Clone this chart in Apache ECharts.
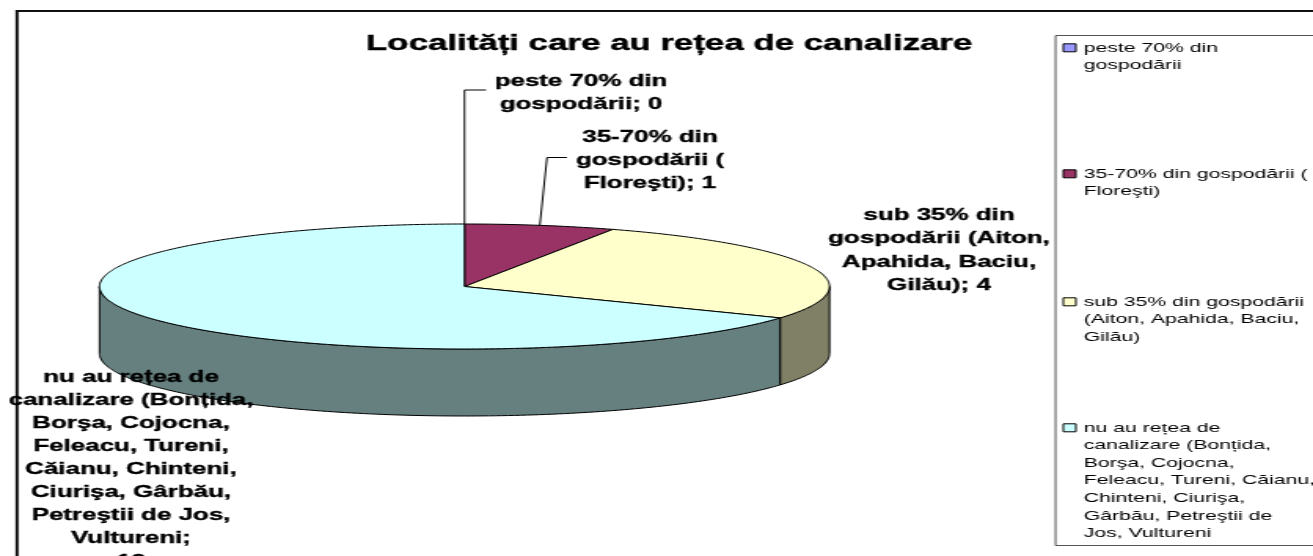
<!DOCTYPE html>
<html>
<head>
<meta charset="utf-8">
<style>
html,body{margin:0;padding:0;background:#fff;overflow:hidden}
#w{width:1313px;height:556px;overflow:hidden}
#c{width:836px;height:556px;transform:scale(1.5706,1);transform-origin:0 0}
</style>
<script src="https://cdn.jsdelivr.net/npm/echarts@6/dist/echarts.min.js"></script>
</head>
<body>
<div id="w"><div id="c"></div></div>
<script>
const titleText = 'Localități care au rețea de canalizare';
const categories = [
  'peste 70% din\ngospodării',
  '35-70% din gospodării (\nFloreşti)',
  'sub 35% din gospodării\n(Aiton, Apahida, Baciu,\nGilău)',
  'nu au rețea de\ncanalizare (Bonțida,\nBorşa, Cojocna,\nFeleacu, Tureni, Căianu,\nChinteni, Ciurişa,\nGârbău, Petreştii de\nJos, Vultureni'
];
const labelTexts = [
  'peste 70% din\ngospodării; ',
  '35-70% din\ngospodării (\nFloreşti); ',
  'sub 35% din\ngospodării (Aiton,\nApahida, Baciu,\nGilău); ',
  'nu au rețea de\ncanalizare (Bonțida,\nBorşa, Cojocna,\nFeleacu, Tureni,\nCăianu, Chinteni,\nCiurişa, Gârbău,\nPetreştii de Jos,\nVultureni;\n'
];
const values = [0, 1, 4, 12];
const topColors = ['#9999FF', '#993366', '#FFFFCC', '#CCFFFF'];
const sideColors = ['#4D4D80', '#4D1A33', '#808066', '#668080'];

// The whole picture is drawn narrow and stretched sideways; SX converts screen x to drawing x.
const SX = 1313 / 836;
const sx = x => x / SX;

// layout of the tilted pie
const CX = sx(464.5), CY = 286.5, RX = sx(365), RY = 62.5, DEPTH = 67;
const total = values.reduce((a, b) => a + b, 0);
const rad = Math.PI / 180;
// the tilted view stretches the front-right part of the disc
function viewAngle(deg) {
  const a = deg * rad;
  return a + (6.26 * (1 - Math.cos(a)) + 6.57 * Math.sin(a)) * rad;
}
function rim(a, drop) {
  return [CX + RX * Math.sin(a), CY - RY * Math.cos(a) + (drop || 0)];
}
function arc(a0, a1, drop) {
  const pts = [], n = Math.max(2, Math.ceil(Math.abs(a1 - a0) / (1 * rad)));
  for (let i = 0; i <= n; i++) pts.push(rim(a0 + (a1 - a0) * i / n, drop));
  return pts;
}
const labelPlace = [
  { x: sx(581), y: 69.5, h: 23.4, leader: [[sx(464.5), 90], [sx(486), 90]] },
  { x: sx(650), y: 126, h: 23, leader: [[sx(547), 157.5], [sx(567), 157.5]] },
  { x: sx(939), y: 204, h: 23.2 },
  { x: sx(131), y: 366, h: 23 }
];

function renderSlice(params, api) {
  const idx = params.seriesIndex;
  const v = api.value(0);
  const before = values.slice(0, idx).reduce((a, b) => a + b, 0);
  const a0 = viewAngle(before / total * 360);
  const a1 = viewAngle((before + v) / total * 360);
  const children = [];
  if (v > 0) {
    const s0 = Math.max(a0, Math.PI / 2), s1 = Math.min(a1, Math.PI * 1.5);
    if (s1 > s0) {
      children.push({
        type: 'polygon', z2: 1,
        shape: { points: arc(s0, s1, 0).concat(arc(s1, s0, DEPTH)) },
        style: { fill: sideColors[idx], stroke: '#000', lineWidth: 1 }
      });
    }
    children.push({
      type: 'polygon', z2: 2,
      shape: { points: [[CX, CY]].concat(arc(a0, a1, 0)) },
      style: { fill: topColors[idx], stroke: '#000', lineWidth: 1 }
    });
  }
  const place = labelPlace[idx];
  if (place.leader) {
    const start = rim(viewAngle((before + v / 2) / total * 360), 0);
    children.push({
      type: 'polyline', z2: 3,
      shape: { points: [start].concat(place.leader) },
      style: { fill: null, stroke: '#000', lineWidth: 1 }
    });
  }
  children.push({
    type: 'text', z2: 4,
    style: {
      x: place.x, y: place.y,
      text: labelTexts[idx] + v,
      align: 'center', verticalAlign: 'top',
      font: 'bold 16.5px "Liberation Sans"',
      lineHeight: place.h, fill: '#000',
      stroke: '#000', lineWidth: 0.35
    }
  });
  return { type: 'group', children };
}

const legendTops = [39, 165, 293, 419];
const legendLine = 17.6;
const option = {
  animation: false,
  backgroundColor: '#fff',
  color: topColors,
  tooltip: { show: false },
  title: {
    text: titleText, left: sx(366), top: 33, padding: 0,
    textStyle: { fontFamily: 'Liberation Sans', fontWeight: 'bold', fontSize: 22.2, color: '#000',
      textBorderColor: '#000', textBorderWidth: 0.4 }
  },
  legend: categories.map((name, i) => {
    const n = name.split('\n').length;
    return {
      orient: 'vertical', left: sx(1062.5),
      top: legendTops[i] - (n - 1) * legendLine,
      padding: 0,
      data: [name], icon: 'rect', itemWidth: 8, itemHeight: 8, itemGap: 0, selectedMode: false,
      itemStyle: { borderColor: '#000', borderWidth: 1 },
      // blank lines first, so the swatch sits level with the first text line
      formatter: s => '\n'.repeat(n - 1) + s,
      textStyle: { fontFamily: 'Liberation Sans', fontSize: 13.5, color: '#000', lineHeight: legendLine }
    };
  }),
  graphic: [
    { type: 'rect', z: -1, shape: { x: sx(17), y: 11, width: 1000, height: 600 },
      style: { fill: '#fff', stroke: '#111', lineWidth: 2 } },
    { type: 'rect', z: 0, shape: { x: sx(1055.5), y: 35.5, width: 300, height: 510 },
      style: { fill: '#fff', stroke: '#555', lineWidth: 1 } }
  ],
  series: categories.map((name, i) => ({
    type: 'custom', name, coordinateSystem: 'none', z: 5,
    itemStyle: { color: topColors[i] },
    renderItem: renderSlice,
    data: [[values[i]]],
    silent: true
  }))
};
const chart = echarts.init(document.getElementById('c'), null, { renderer: 'canvas', width: 836, height: 556 });
chart.setOption(option);
</script>
</body>
</html>
